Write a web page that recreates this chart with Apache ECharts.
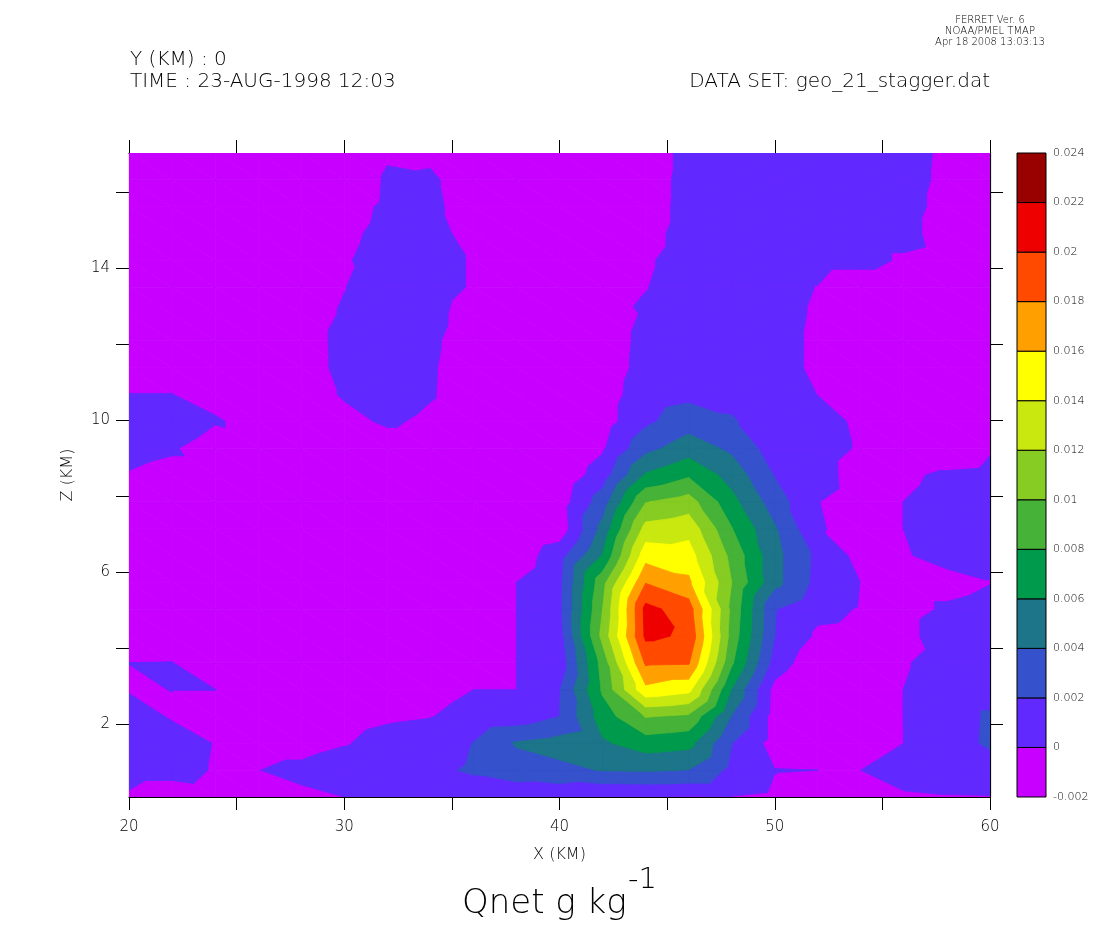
<!DOCTYPE html>
<html><head><meta charset="utf-8">
<script src="https://cdn.jsdelivr.net/npm/echarts@6/dist/echarts.min.js"></script>
<style>html,body{margin:0;padding:0;background:#fff}#c{width:1098px;height:950px}</style>
</head><body><div id="c"></div><script>
// ---- data ----
const xKm = [20,22,24,26,28,30,32,34,36,38,40,42,44,46,48,50,52,54,56,58,60];
const zKm = [0.08,0.786,1.492,2.198,2.904,3.61,4.316,5.022,5.728,6.434,7.14,7.846,8.552,9.258,9.964,10.67,11.376,12.082,12.788,13.494,14.2,14.906,15.612,16.318,17.024];
// Qnet in units of 1e-3 g/kg, one row per zKm level (bottom to top), one column per xKm
const qnetMilli = [
[-0.17,-0.8,-0.5,-0.5,-0.25,0.0,0.5,0.6,0.6,0.7,0.5,-0.05,-0.05,-0.1,-0.05,-0.3,-0.5,-0.5,-0.15,-0.05,-0.03],
[0.5,0.5,-0.1,-0.02,0.3,0.8,1.0,1.5,2.3,3.0,3.5,4.1,4.2,3.95,1.5,0.05,0.0,0.0,0.5,0.5,0.5],
[0.5,0.5,-0.04,-0.5,-0.5,-0.1,0.5,0.7,2.05,4.2,4.8,5.7,7.0,6.6,2.05,-0.78,-0.5,-0.5,0.0,0.5,2.5],
[0.5,-0.1,-0.5,-0.5,-0.5,-0.5,-0.2,-0.05,0.5,0.8,2.0,7.0,10.1,9.6,3.9,-0.8,-0.5,-0.5,0.01,0.5,2.4],
[-0.08,0.01,0.01,-0.5,-0.5,-0.5,-0.5,-0.5,0.0,0.0,1.9,8.3,15.5,14.6,5.9,-0.66,-3.0,-0.5,0.01,0.5,0.5],
[0.005,0.02,-0.5,-0.5,-0.5,-0.5,-0.5,-0.5,-0.5,0.0,0.7,8.8,18.3,18.2,8.3,1.2,-1.6,-0.5,-0.1,0.5,0.5],
[-0.5,-0.5,-0.5,-0.5,-0.5,-0.5,-0.5,-0.5,-0.5,0.0,1.2,10.6,20.4,19.7,9.2,2.0,-0.33,-0.5,-0.5,0.85,0.5],
[-0.5,-0.5,-0.5,-0.5,-0.5,-0.5,-0.5,-0.5,-0.5,0.0,1.5,10.0,20.6,19.0,9.5,2.1,0.5,-0.12,-0.5,0.2,0.5],
[-0.5,-0.5,-0.5,-0.5,-0.5,-0.5,-0.5,-0.5,-0.5,0.0,1.5,9.3,17.9,16.4,10.0,4.6,1.4,-0.03,-0.5,-0.5,-0.05],
[-0.5,-0.5,-0.5,-0.5,-0.5,-0.5,-0.5,-0.5,-0.5,-1.2,1.2,6.1,15.2,14.9,9.4,4.6,1.5,-0.64,-0.13,0.5,0.5],
[-0.5,-0.5,-0.5,-0.5,-0.5,-0.5,-0.5,-0.5,-0.5,-2.0,-1.2,4.6,12.7,13.3,8.1,4.2,0.13,-0.5,0.01,0.5,0.5],
[-0.5,-0.5,-0.5,-0.5,-0.5,-0.5,-0.5,-0.5,-0.5,-0.5,-1.0,3.0,9.9,10.9,6.6,3.0,0.03,-0.5,0.01,0.5,0.5],
[-0.1,-0.5,-0.5,-0.5,-0.5,-0.5,-0.5,-0.5,-0.5,-0.5,-1.5,1.0,6.2,7.7,5.2,1.9,0.5,-0.57,-0.3,0.3,0.5],
[0.5,0.2,-1.0,-0.5,-0.5,-0.5,-0.5,-0.5,-0.5,-0.5,-2.0,-0.26,3.4,5.0,3.6,1.0,0.5,-0.13,-1.5,-1.5,-0.2],
[0.5,1.5,0.15,-0.5,-0.5,-0.3,0.15,-0.2,-0.5,-0.5,-0.5,-0.9,1.6,3.1,2.2,0.8,0.5,-0.25,-0.5,-0.5,-0.5],
[0.02,0.02,-0.5,-0.5,-0.5,0.1,0.5,0.08,-0.5,-0.5,-0.5,-0.9,1.0,1.5,1.4,0.6,-0.02,-0.5,-0.5,-0.5,-0.5],
[-0.5,-0.5,-0.5,-0.5,-0.5,0.28,0.5,0.1,-0.5,-0.5,-0.5,-1.0,0.6,0.5,0.5,0.5,-0.25,-0.5,-0.5,-0.5,-0.5],
[-0.5,-0.5,-0.5,-0.5,-0.5,0.3,0.5,0.17,-0.5,-0.5,-0.5,-1.0,0.5,0.5,0.5,0.5,-0.25,-0.5,-0.5,-0.5,-0.5],
[-0.5,-0.5,-0.5,-0.5,-0.5,0.1,0.5,0.35,-0.5,-0.5,-0.5,-1.0,0.2,0.5,0.5,0.5,-0.17,-0.5,-0.5,-0.5,-0.5],
[-0.5,-0.5,-0.5,-0.5,-0.5,-0.03,0.6,0.5,-0.11,-0.5,-0.5,-0.5,-0.04,0.5,0.5,0.5,-0.04,-1.0,-1.0,-0.5,-0.5],
[-0.5,-0.5,-0.5,-0.5,-0.5,-0.2,0.85,0.5,-0.11,-0.5,-0.5,-0.5,-0.15,0.5,0.5,0.5,0.5,0.5,-0.2,-0.5,-0.5],
[-0.5,-0.5,-0.5,-0.5,-0.5,-0.5,0.64,0.5,-0.5,-0.5,-0.5,-0.5,-0.45,0.5,0.5,0.5,0.5,0.5,0.5,-0.7,-0.5],
[-0.5,-0.5,-0.5,-0.5,-0.5,-1.0,0.43,0.24,-0.5,-0.5,-0.5,-0.5,-0.7,0.5,0.5,0.5,0.5,0.5,0.5,-0.45,-0.5],
[-0.5,-0.5,-0.5,-0.5,-0.5,-2.0,0.33,0.15,-0.5,-0.5,-0.5,-0.5,-0.75,0.5,0.5,0.5,0.5,0.5,0.5,-0.3,-0.5],
[-0.5,-0.5,-0.5,-0.5,-0.5,-2.0,-0.3,-0.2,-0.3,-0.5,-0.5,-0.5,-0.9,0.5,0.5,0.5,0.5,0.5,0.5,-0.25,-0.5]
];
// contour levels (g/kg) and fill colours (one per band between levels)
const levels = [-0.002,0,0.002,0.004,0.006,0.008,0.01,0.012,0.014,0.016,0.018,0.02,0.022,0.024];
const bandColors = ['#c800ff','#6229ff','#3552cc','#1c7589','#009a4c','#46b237','#86cc22','#c8e810','#ffff00','#ffa000','#ff4a00','#ee0000','#990000'];
const zTicks = [2,4,6,8,10,12,14,16];
const zLabels = [2,6,10,14];
const xTickStep = 5, xLabelStep = 10;

// ---- build ----
const FONT = "'DejaVu Sans', sans-serif";
const qnet = qnetMilli.map(r => r.map(v => v / 1000));
function node(i, k) { return [xKm[i], zKm[k], qnet[k][i]]; }
const cells = [];
for (let k = 0; k < zKm.length - 1; k++)
  for (let i = 0; i < xKm.length - 1; i++) cells.push([i, k]);
// one item per (band, cell), ordered band by band so upper bands are painted last
const items = [];
for (let j = 0; j < bandColors.length; j++) {
  cells.forEach((c, ci) => {
    const i = c[0], k = c[1];
    const vmax = Math.max(qnet[k][i], qnet[k][i + 1], qnet[k + 1][i], qnet[k + 1][i + 1]);
    if (j === 0 || vmax >= levels[j]) items.push([xKm[i], zKm[k], ci, j]);
  });
}

function clipAbove(poly, L) {
  const out = [];
  for (let a = 0; a < poly.length; a++) {
    const P = poly[a], Q = poly[(a + 1) % poly.length];
    const pin = P[2] >= L, qin = Q[2] >= L;
    if (pin) out.push(P);
    if (pin !== qin) {
      const t = (L - P[2]) / (Q[2] - P[2]);
      out.push([P[0] + t * (Q[0] - P[0]), P[1] + t * (Q[1] - P[1]), L]);
    }
  }
  return out;
}
function area(pts) {
  let s = 0;
  for (let a = 0; a < pts.length; a++) {
    const p = pts[a], q = pts[(a + 1) % pts.length];
    s += p[0] * q[1] - q[0] * p[1];
  }
  return Math.abs(s / 2);
}

function renderCell(params, api) {
  const it = items[params.dataIndex];
  const c = cells[it[2]], j = it[3];
  const i = c[0], k = c[1];
  const tris = [
    [node(i, k + 1), node(i, k), node(i + 1, k)],
    [node(i, k + 1), node(i + 1, k + 1), node(i + 1, k)]
  ];
  const children = [];
  tris.forEach(tri => {
    const poly = j === 0 ? tri : clipAbove(tri, levels[j]);
    if (poly.length < 3) return;
    const pts = poly.map(p => api.coord([p[0], p[1]]));
    if (area(pts) < 0.05) return;
    children.push({
      type: 'polygon',
      shape: { points: pts },
      style: { fill: bandColors[j], stroke: bandColors[j], lineWidth: 0.8, lineJoin: 'round' },
      silent: true
    });
  });
  return { type: 'group', children };
}

const bars = bandColors.map((c, j) => [0, levels[j], j]);
function renderBar(params, api) {
  const j = params.dataIndex;
  const p0 = api.coord([0, levels[j]]);
  const p1 = api.coord([1, levels[j + 1]]);
  return {
    type: 'rect',
    shape: { x: p0[0], y: p1[1], width: p1[0] - p0[0], height: p0[1] - p1[1] },
    style: { fill: bandColors[j], stroke: '#000', lineWidth: 1 }
  };
}
function fmtLevel(v) {
  let s = v.toFixed(3);
  s = s.replace(/0+$/, '').replace(/\.$/, '');
  if (s === '-0') s = '0';
  return s;
}

const axisLineBlack = { show: true, lineStyle: { color: '#000', width: 1.2 } };
const tickBlack = { show: true, inside: false, length: 13, lineStyle: { color: '#000', width: 1 } };
const labelStyle = { color: '#000', fontFamily: FONT, fontSize: 15, fontWeight: 200 };

const chart = echarts.init(document.getElementById('c'), null, { renderer: 'canvas' });
chart.setOption({
  animation: false,
  backgroundColor: '#fff',
  grid: [
    { left: 129, top: 153, width: 861, height: 644, containLabel: false, show: false },
    { left: 1017, top: 153, width: 29, height: 644, containLabel: false, show: false }
  ],
  xAxis: [
    { gridIndex: 0, type: 'value', min: xKm[0], max: xKm[xKm.length - 1], interval: xTickStep, position: 'bottom',
      axisLine: axisLineBlack, axisTick: tickBlack, splitLine: { show: false },
      axisLabel: Object.assign({ margin: 23, formatter: v => (v % xLabelStep === 0 ? String(v) : '') }, labelStyle),
      name: 'X (KM)', nameLocation: 'middle', nameGap: 50,
      nameTextStyle: { color: '#000', fontFamily: FONT, fontSize: 16, fontWeight: 200 } },
    { gridIndex: 0, type: 'value', min: xKm[0], max: xKm[xKm.length - 1], interval: xTickStep, position: 'top',
      axisLine: axisLineBlack, axisTick: tickBlack, splitLine: { show: false }, axisLabel: { show: false } },
    { gridIndex: 1, type: 'value', min: 0, max: 1, show: false }
  ],
  yAxis: [
    { gridIndex: 0, type: 'value', min: zKm[0], max: zKm[zKm.length - 1], position: 'left',
      axisLine: axisLineBlack, splitLine: { show: false },
      axisTick: Object.assign({ customValues: zTicks }, tickBlack),
      axisLabel: Object.assign({ margin: 19, customValues: zLabels }, labelStyle),
      name: 'Z (KM)', nameLocation: 'middle', nameGap: 53, nameRotate: 90,
      nameTextStyle: { color: '#000', fontFamily: FONT, fontSize: 16, fontWeight: 200 } },
    { gridIndex: 0, type: 'value', min: zKm[0], max: zKm[zKm.length - 1], position: 'right',
      axisLine: axisLineBlack, splitLine: { show: false },
      axisTick: Object.assign({ customValues: zTicks }, tickBlack),
      axisLabel: { show: false } },
    { gridIndex: 1, type: 'value', min: levels[0], max: levels[levels.length - 1], interval: 0.002, position: 'right',
      axisLine: { show: false }, axisTick: { show: false }, splitLine: { show: false },
      axisLabel: { margin: 7, formatter: fmtLevel, color: '#000', fontFamily: FONT, fontSize: 11, fontWeight: 200 } }
  ],
  series: [
    { type: 'custom', xAxisIndex: 0, yAxisIndex: 0, data: items, encode: { x: 0, y: 1 },
      renderItem: renderCell, clip: true, silent: true, z: 1 },
    { type: 'custom', xAxisIndex: 2, yAxisIndex: 2, data: bars, encode: { x: 0, y: 1 },
      renderItem: renderBar, silent: true, z: 2 }
  ],
  graphic: [
    { type: 'text', x: 990, y: 20, style: { text: 'FERRET Ver. 6', font: "200 10px 'DejaVu Sans'", fill: '#000', textAlign: 'center', textVerticalAlign: 'middle' } },
    { type: 'text', x: 990, y: 31, style: { text: 'NOAA/PMEL TMAP', font: "200 10px 'DejaVu Sans'", fill: '#000', textAlign: 'center', textVerticalAlign: 'middle' } },
    { type: 'text', x: 990, y: 42, style: { text: 'Apr 18 2008 13:03:13', font: "200 10px 'DejaVu Sans'", fill: '#000', textAlign: 'center', textVerticalAlign: 'middle' } },
    { type: 'text', x: 130, y: 60, style: { text: 'Y (KM) : 0', font: "200 20px 'DejaVu Sans'", fill: '#000', textAlign: 'left', textVerticalAlign: 'middle' } },
    { type: 'text', x: 130, y: 82, style: { text: 'TIME : 23-AUG-1998 12:03', font: "200 20px 'DejaVu Sans'", fill: '#000', textAlign: 'left', textVerticalAlign: 'middle' } },
    { type: 'text', x: 990, y: 82, style: { text: 'DATA SET: geo_21_stagger.dat', font: "200 20px 'DejaVu Sans'", fill: '#000', textAlign: 'right', textVerticalAlign: 'middle' } },
    { type: 'text', x: 462, y: 904, style: { text: 'Qnet g kg', font: "200 34px 'DejaVu Sans'", fill: '#000', textAlign: 'left', textVerticalAlign: 'middle' } },
    { type: 'text', x: 628, y: 880, style: { text: '-1', font: "200 29px 'DejaVu Sans'", fill: '#000', textAlign: 'left', textVerticalAlign: 'middle' } }
  ]
});
</script></body></html>
